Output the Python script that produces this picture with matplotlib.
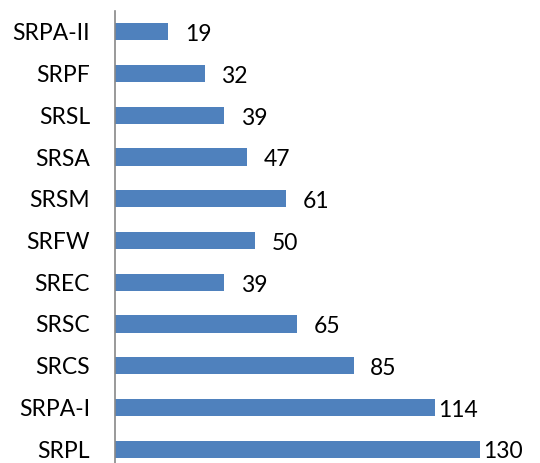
import matplotlib
matplotlib.use("Agg")
import matplotlib.pyplot as plt

categories = ["SRPA-II", "SRPF", "SRSL", "SRSA", "SRSM", "SRFW", "SREC", "SRSC", "SRCS", "SRPA-I", "SRPL"]
values = [19, 32, 39, 47, 61, 50, 39, 65, 85, 114, 130]

plt.rcParams['font.family'] = ['Lato', 'DejaVu Sans']

fig = plt.figure(figsize=(5.4, 4.63), dpi=100)
W, H = 540, 463
ax = fig.add_axes([115 / W, -7 / H, 421 / W, 459 / H])

ypos = list(range(len(categories)))
ax.barh(ypos, values, height=0.41, color='#4F81BD')
ax.set_ylim(len(categories) - 0.5, -0.5)
ax.set_xlim(0, 150)
ax.set_yticks(ypos)
ax.set_yticklabels(categories, fontsize=16.5, color='#000000')
ax.tick_params(axis='y', length=0, pad=18)
ax.set_xticks([])
for s in ['top', 'right', 'bottom']:
    ax.spines[s].set_visible(False)
ax.spines['left'].set_color('#888888')
ax.spines['left'].set_linewidth(1.2)

for y, v in zip(ypos, values):
    gap = 12 if v < 100 else 2
    ax.annotate(str(v), xy=(v, y), xytext=(gap, -2), textcoords='offset points',
                ha='left', va='center', fontsize=16.5, color='#000000',
                annotation_clip=False)

fig.savefig("out.png", dpi=100)
